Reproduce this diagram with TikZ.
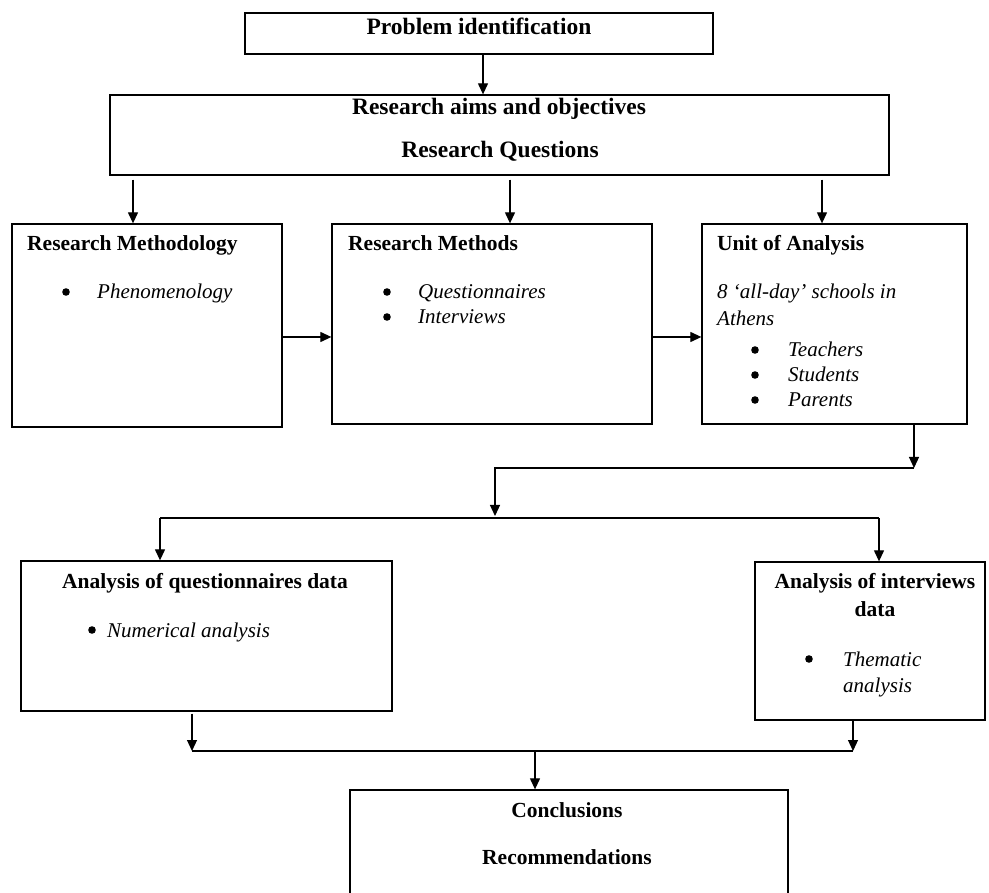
\documentclass[tikz,border=0pt]{standalone}
\usepackage{fontspec}
\setmainfont{Liberation Serif}
\usetikzlibrary{arrows.meta,positioning}

\tikzset{
  box/.style={draw, line width=1.3pt, inner sep=0pt},
  arr/.style={line width=1.2pt, -{Triangle[length=11pt,width=10pt]}},
  line/.style={line width=1.2pt},
  bigttl/.style={font=\fontsize{23.5}{27}\selectfont\bfseries, inner sep=0pt},
  ttl/.style={font=\fontsize{21.5}{25}\selectfont\bfseries, inner sep=0pt},
  itm/.style={font=\fontsize{21}{25}\selectfont\itshape, inner sep=0pt, anchor=base west}
}

\begin{document}
\begin{tikzpicture}[x=1pt,y=-1pt]
\path[use as bounding box, clip] (0,0) rectangle (989,893);

% Boxes
\node[box, minimum width=468, minimum height=41] (prob) at (479,33.5) {};
\node[box, minimum width=779, minimum height=80] (aims) at (499.5,135) {};
\node[box, minimum width=270, minimum height=203] (rmeth) at (147,325.5) {};
\node[box, minimum width=320, minimum height=200] (rmtd) at (492,324) {};
\node[box, minimum width=265, minimum height=200] (unit) at (834.5,324) {};
\node[box, minimum width=371, minimum height=150] (aq) at (206.5,636) {};
\node[box, minimum width=230, minimum height=158] (ai) at (870,641) {};
\node[box, minimum width=438, minimum height=120] (concl) at (569,850) {};

% Titles
\node[bigttl, anchor=base] (probT) at (479,35) {Problem identification};
\node[bigttl, anchor=base] (aimsT1) at (499,115) {Research aims and objectives};
\node[bigttl, anchor=base] (aimsT2) at (500,158) {Research Questions};
\node[ttl, anchor=base west] (rmethT) at (27,251) {Research Methodology};
\node[ttl, anchor=base west] (rmtdT) at (348,251) {Research Methods};
\node[ttl, anchor=base west] (unitT) at (717,251) {Unit of Analysis};
\node[ttl, anchor=base west] (aqT) at (62,588) {Analysis of questionnaires data};
\node[ttl, anchor=base] (aiT1) at (875,588) {Analysis of interviews};
\node[ttl, anchor=base] (aiT2) at (875,616) {data};
\node[ttl, anchor=base] (conclT1) at (567,817) {Conclusions};
\node[ttl, anchor=base] (conclT2) at (567,864) {Recommendations};

% Items
\node[itm] (rmethI) at (97,299) {Phenomenology};
\node[itm] (rmtdI1) at (418,299) {Questionnaires};
\node[itm] (rmtdI2) at (418,324) {Interviews};
\node[itm] (unitI0) at (717,299) {8 ‘all-day’ schools in};
\node[itm] (unitI00) at (717,326) {Athens};
\node[itm] (unitI1) at (788,357) {Teachers};
\node[itm] (unitI2) at (788,382) {Students};
\node[itm] (unitI3) at (788,407) {Parents};
\node[itm] (aqI) at (107,637) {Numerical analysis};
\node[itm] (aiI1) at (843,666) {Thematic};
\node[itm] (aiI2) at (843,692) {analysis};

% Bullets
\foreach \x/\y in {66/292, 387/292, 387/317, 755/350, 755/375, 755/400, 92/630, 809/659}
    \fill (\x,\y) circle (3.8);

% Arrows
\coordinate (p1) at (483,0);
\draw[arr] (prob.south -| p1) -- (aims.north -| p1);
\coordinate (a1) at (133,0);
\coordinate (a2) at (510,0);
\coordinate (a3) at (822,0);
\draw[arr, shorten <=4pt] (aims.south -| a1) -- (rmeth.north -| a1);
\draw[arr, shorten <=4pt] (aims.south -| a2) -- (rmtd.north -| a2);
\draw[arr, shorten <=4pt] (aims.south -| a3) -- (unit.north -| a3);
\coordinate (h1) at (0,337);
\draw[arr] (rmeth.east |- h1) -- (rmtd.west |- h1);
\draw[arr] (rmtd.east |- h1) -- (unit.west |- h1);

\coordinate (j1) at (914,468);
\coordinate (j2) at (495,516);
\draw[arr] (unit.south -| j1) -- (j1);
\draw[arr] (j1) -| (j2);

\coordinate (s1) at (160,518);
\coordinate (s2) at (879,518);
\draw[line] (s1) -- (s2);
\draw[arr] (s1) -- (aq.north -| s1);
\draw[arr] (s2) -- (ai.north -| s2);

\coordinate (m1) at (192,751);
\coordinate (m2) at (853,751);
\coordinate (m3) at (535,751);
\draw[line] (m1) -- (m2);
\draw[arr, shorten <=2pt] (aq.south -| m1) -- (m1);
\draw[arr] (ai.south -| m2) -- (m2);
\draw[arr] (m3) -- (concl.north -| m3);

\end{tikzpicture}
\end{document}
